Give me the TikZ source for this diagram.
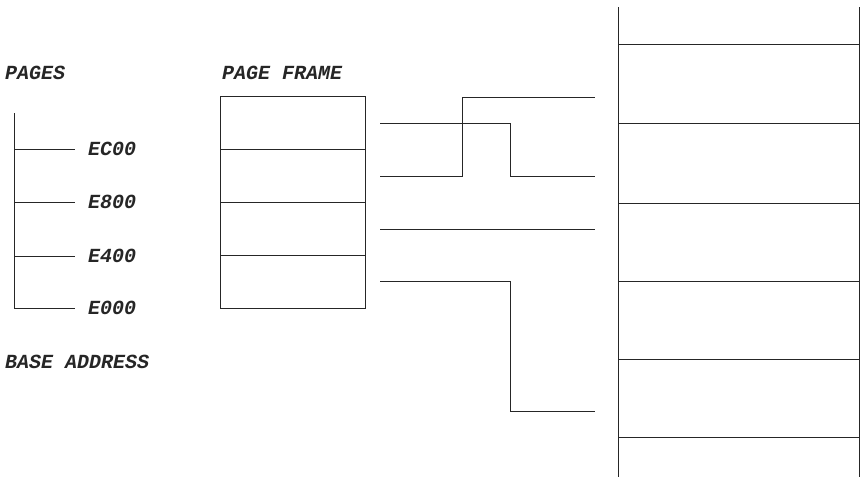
\documentclass[tikz,border=0pt]{standalone}
\usepackage{fontspec}
\newfontfamily\labelfont{Liberation Mono}
\begin{document}
\begin{tikzpicture}[x=1pt,y=-1pt,
  ln/.style={line width=0.9pt,black!85},
  lbl/.style={anchor=west,inner sep=0pt,text=black!85,font=\labelfont\bfseries\itshape\fontsize{20}{20}\selectfont},
  cell/.style={draw,line width=0.9pt,black!85,minimum width=145pt,minimum height=53pt,inner sep=0pt,outer sep=0pt},
  mem/.style={line width=0.9pt,black!85}]
\useasboundingbox (0,0) rectangle (866,477);
% labels
\node[lbl] (pages) at (5,73) {PAGES};
\node[lbl] (frame) at (222,73) {PAGE FRAME};
\node[lbl] (base) at (5,362) {BASE ADDRESS};
% pages axis
\coordinate (axtop) at (14,113);
\coordinate (axbot) at (14,308);
\draw[ln] (axtop) -- (axbot);
\foreach \y/\t/\n in {149/EC00/a,202/E800/b,256/E400/c,308/E000/d}{
  \coordinate (t\n) at (14,\y);
  \coordinate (te\n) at (75,\y);
  \draw[ln] (t\n) -- (te\n);
  \node[lbl] (l\n) at (88,\y) {\t};
}
% page frame
\node[cell] (f1) at (292.5,123) {};
\node[cell,anchor=north] (f2) at (f1.south) {};
\node[cell,anchor=north] (f3) at (f2.south) {};
\node[cell,anchor=north] (f4) at (f3.south) {};
% memory column
\coordinate (mtl) at (618.5,7);
\coordinate (mbl) at (618.5,477);
\coordinate (mtr) at (859,7);
\coordinate (mbr) at (859,477);
\draw[mem] (mtl) -- (mbl);
\draw[mem] (mtr) -- (mbr);
\foreach \y/\n in {44/1,123/2,203/3,281/4,359/5,437/6}{
  \coordinate (ml\n) at (618.5,\y);
  \coordinate (mr\n) at (859,\y);
  \draw[mem] (ml\n) -- (mr\n);
}
% connectors
\coordinate (c1s) at (380,123);
\coordinate (c1e) at (595,176);
\coordinate (c2s) at (380,176);
\coordinate (c2e) at (595,97);
\coordinate (c3s) at (380,229);
\coordinate (c3e) at (595,229);
\coordinate (c4s) at (380,281);
\coordinate (c4e) at (595,411);
\draw[ln,line width=0.7pt] (c1s) -- (510,123) |- (c1e);
\draw[ln] (c2s) -- (462,176) |- (c2e);
\draw[ln,line width=0.7pt] (c3s) -- (c3e);
\draw[ln] (c4s) -- (510,281) |- (c4e);
\end{tikzpicture}
\end{document}
